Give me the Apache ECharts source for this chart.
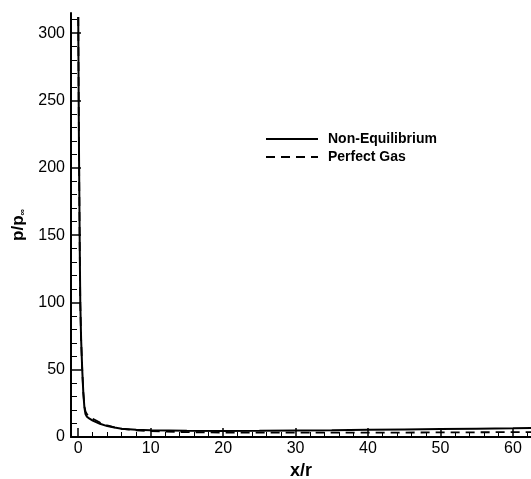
<!DOCTYPE html>
<html>
<head>
<meta charset="utf-8">
<script src="https://cdn.jsdelivr.net/npm/echarts@6/dist/echarts.min.js"></script>
<style>
  html, body { margin: 0; padding: 0; background: #fff; }
  #chart { width: 531px; height: 479px; }
</style>
</head>
<body>
<div id="chart"></div>
<script>
// Pressure ratio along the body surface, x/r vs p/p_inf
var nonEqX = [0, 0.05, 0.12, 0.2, 0.28, 0.4, 0.55, 0.7, 0.85, 1.0, 1.2, 1.5, 2, 3, 4, 5, 6, 8, 10, 15, 20, 25, 30, 35, 40, 45, 50, 55, 60, 62.5];
var nonEqY = [312, 260, 200, 145, 100, 72, 50, 33, 22, 17, 15, 13.8, 12.2, 9.8, 8.1, 7.0, 6.2, 5.4, 5.0, 4.6, 4.5, 4.6, 4.8, 5.0, 5.3, 5.6, 5.9, 6.2, 6.5, 6.7];

var perfX = [0, 0.05, 0.12, 0.2, 0.28, 0.4, 0.55, 0.7, 0.85, 1.0, 1.2, 1.5, 2, 3, 4, 5, 6, 8, 10, 15, 20, 25, 30, 35, 40, 45, 50, 55, 60, 62.5];
var perfY = [312, 260, 200, 145, 100, 72, 50, 33, 23, 19, 17, 15.5, 13.6, 10.8, 8.6, 7.2, 6.1, 5.0, 4.3, 3.6, 3.3, 3.2, 3.2, 3.2, 3.3, 3.3, 3.4, 3.5, 3.6, 3.6];

var seriesNames = ['Non-Equilibrium', 'Perfect Gas'];
var xMajor = [0, 10, 20, 30, 40, 50, 60];
var xMinor = [2, 4, 6, 8, 12, 14, 16, 18, 22, 24, 26, 28, 32, 34, 36, 38, 42, 44, 46, 48, 52, 54, 56, 58, 62];
var yMajor = [0, 50, 100, 150, 200, 250, 300];
var yMinor = [10, 20, 30, 40, 60, 70, 80, 90, 110, 120, 130, 140, 160, 170, 180, 190, 210, 220, 230, 240, 260, 270, 280, 290, 310];

function pairs(xs, ys) {
  return xs.map(function (x, i) { return [x, ys[i]]; });
}

var FONT = '"Liberation Sans", Arial, sans-serif';
var X_MIN = -1, X_MAX = 62.5, Y_MIN = 0, Y_MAX = 315;
var DASH = [9, 6];

var chart = echarts.init(document.getElementById('chart'), null, { renderer: 'canvas' });

chart.setOption({
  animation: false,
  backgroundColor: '#fff',
  grid: { left: 71, right: 0, top: 13, bottom: 42, containLabel: false, outerBoundsMode: 'none' },
  legend: {
    orient: 'vertical',
    left: 265,
    top: 132,
    padding: 0,
    itemWidth: 52,
    itemHeight: 14,
    itemGap: 4,
    data: seriesNames,
    itemStyle: { opacity: 0 },
    textStyle: { fontFamily: FONT, fontWeight: 'bold', fontSize: 14, color: '#000', padding: [0, 0, 0, 5] }
  },
  xAxis: [
    {
      type: 'value', min: X_MIN, max: X_MAX, position: 'bottom',
      name: 'x/r', nameLocation: 'middle', nameGap: 20,
      nameTextStyle: { fontFamily: FONT, fontWeight: 'bold', fontSize: 18, color: '#000' },
      axisLine: { show: true, onZero: false, lineStyle: { color: '#000', width: 2 } },
      axisTick: { show: true, inside: true, length: 9, customValues: xMajor, lineStyle: { color: '#000', width: 1.5 } },
      axisLabel: { customValues: xMajor, fontFamily: FONT, fontSize: 16, color: '#000', margin: 4 },
      splitLine: { show: false }
    },
    {
      type: 'value', min: X_MIN, max: X_MAX, position: 'bottom',
      axisLine: { show: false, onZero: false },
      axisTick: { show: true, inside: true, length: 5, customValues: xMinor, lineStyle: { color: '#000', width: 1 } },
      axisLabel: { show: false },
      splitLine: { show: false }
    }
  ],
  yAxis: [
    {
      type: 'value', min: Y_MIN, max: Y_MAX, position: 'left',
      name: '{a|p/p}{b|∞}', nameLocation: 'middle', nameGap: 38, nameRotate: 90,
      nameTextStyle: {
        rich: {
          a: { fontFamily: FONT, fontWeight: 'bold', fontSize: 17, color: '#000' },
          b: { fontFamily: FONT, fontWeight: 'bold', fontSize: 9, color: '#000', padding: [10, 0, 0, 0] }
        }
      },
      axisLine: { show: true, onZero: false, lineStyle: { color: '#000', width: 2 } },
      axisTick: { show: true, inside: true, length: 10, customValues: yMajor, lineStyle: { color: '#000', width: 1.5 } },
      axisLabel: { customValues: yMajor, fontFamily: FONT, fontSize: 16, color: '#000', margin: 6 },
      splitLine: { show: false }
    },
    {
      type: 'value', min: Y_MIN, max: Y_MAX, position: 'left',
      axisLine: { show: false, onZero: false },
      axisTick: { show: true, inside: true, length: 6, customValues: yMinor, lineStyle: { color: '#000', width: 1 } },
      axisLabel: { show: false },
      splitLine: { show: false }
    }
  ],
  series: [
    {
      name: seriesNames[0], type: 'line', xAxisIndex: 0, yAxisIndex: 0,
      data: pairs(nonEqX, nonEqY), showSymbol: false, symbol: 'none',
      lineStyle: { color: '#000', width: 2, type: 'solid' },
      itemStyle: { color: '#000' }, clip: true, z: 3
    },
    {
      name: seriesNames[1], type: 'line', xAxisIndex: 0, yAxisIndex: 0,
      data: pairs(perfX, perfY), showSymbol: false, symbol: 'none',
      lineStyle: { color: '#000', width: 1.8, type: DASH },
      itemStyle: { color: '#000' }, clip: true, z: 2
    }
  ]
});
</script>
</body>
</html>
